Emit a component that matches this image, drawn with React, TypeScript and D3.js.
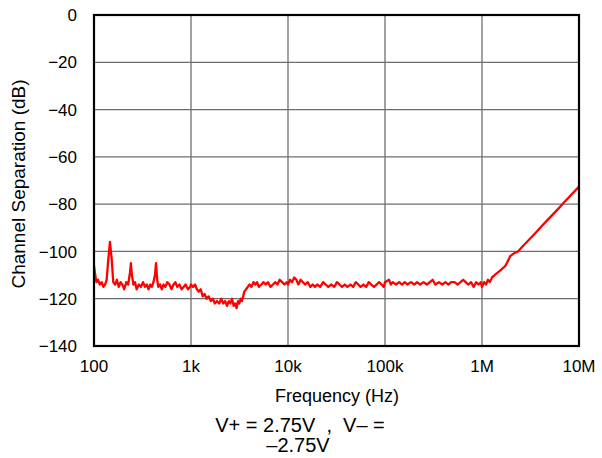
import React from "react";
import * as d3 from "d3";

const freqs: number[] = [
  100, 103, 106, 110, 115, 120, 125, 130, 135, 140, 146, 152, 158, 165, 172, 180, 188, 196, 205, 215,
  225, 235, 240, 246, 255, 265, 275, 290, 305, 320, 335, 350, 365, 380, 395, 410, 425, 436, 448, 460,
  480, 500, 520, 545, 570, 600, 630, 660, 690, 720, 760, 800, 840, 880, 930, 980, 1000,
  1050, 1100, 1150, 1200, 1260, 1320, 1380, 1450, 1520, 1600, 1680, 1760, 1850, 1950, 2050, 2150, 2250,
  2350, 2450, 2550, 2650, 2750, 2850, 2950, 3050, 3150, 3250, 3350, 3450, 3550, 3700, 3850, 4000,
  4200, 4400, 4600, 4800, 5000, 5300, 5600, 5900, 6200, 6600, 7000, 7400, 7800, 8200, 8700, 9200, 9700,
  10000, 10500, 11000, 11600, 12200, 12800, 13500, 14200, 15000, 16000, 17000, 18000, 19000, 20000,
  21500, 23000, 24500, 26000, 28000, 30000, 32000, 34000, 36000, 38500, 41000, 44000, 47000, 50000,
  53000, 56000, 60000, 64000, 68000, 72000, 77000, 82000, 87000, 92000, 97000,
  100000, 110000, 115000, 120000, 130000, 140000, 150000, 160000, 170000, 185000, 200000, 215000,
  230000, 250000, 270000, 290000, 310000, 330000, 360000, 390000, 420000, 450000, 480000, 520000,
  560000, 600000, 640000, 680000, 720000, 770000, 820000, 870000, 920000, 970000,
  1000000, 1050000, 1100000, 1150000, 1200000, 1270000, 1350000, 1450000, 1550000, 1650000, 1750000,
  1850000, 1950000, 2100000, 2350000, 2600000, 3000000, 3500000, 4000000, 5000000, 6000000, 7000000,
  8000000, 10000000,
];

const separation: number[] = [
  -106, -110, -113, -112, -114, -113, -115, -114, -112, -104, -96, -103, -113, -114, -112, -115, -113, -114, -116, -113,
  -114, -109, -105, -110, -114, -113, -116, -114, -115, -113, -115, -114, -116, -114, -115, -113, -110, -105, -112, -115,
  -114, -116, -114, -115, -113, -114, -116, -114, -113, -115, -114, -116, -115, -114, -116, -115, -114,
  -115, -114, -116, -117, -116, -119, -118, -120, -119, -121, -120, -122, -121, -122, -120, -122, -121,
  -123, -121, -122, -120, -123, -122, -124, -121, -122, -120, -121, -119, -117, -116, -115, -114,
  -115, -113, -114, -113, -115, -114, -113, -114, -113, -115, -114, -113, -114, -112, -113, -114, -113,
  -114, -112, -113, -111, -112, -114, -112, -113, -114, -113, -115, -114, -115, -114,
  -115, -113, -114, -115, -114, -115, -113, -114, -115, -114, -115, -114, -115, -113,
  -114, -115, -114, -115, -113, -114, -115, -114, -113, -114, -115,
  -113, -112, -114, -113, -114, -113, -114, -113, -114, -113, -114, -113,
  -114, -113, -114, -113, -112, -114, -113, -114, -113, -114, -113, -113,
  -114, -113, -112, -113, -114, -113, -115, -113, -114, -113,
  -115, -113, -114, -112, -113, -111, -110, -109, -108, -107, -106,
  -104, -102, -101, -100, -98, -95.4, -92.5, -89.9, -85.7, -82.3, -79.3,
  -76.8, -72.6,
];

const xTicks: number[] = [100, 1000, 10000, 100000, 1000000, 10000000];
const xTickLabels: string[] = ["100", "1k", "10k", "100k", "1M", "10M"];
const yTicks: number[] = [0, -20, -40, -60, -80, -100, -120, -140];
const yTickLabels: string[] = ["0", "\u221220", "\u221240", "\u221260", "\u221280", "\u2212100", "\u2212120", "\u2212140"];

const W = 602;
const H = 458;
const left = 94;
const right = 579;
const top = 15;
const bottom = 346;
const font = "'Liberation Sans', Arial, sans-serif";

export default function App() {
  const x = d3.scaleLog().domain([100, 10000000]).range([left, right]);
  const y = d3.scaleLinear().domain([-140, 0]).range([bottom, top]);
  const data = freqs.map((f, i) => [f, separation[i]] as [number, number]);
  const line = d3
    .line<[number, number]>()
    .x((d) => x(d[0]))
    .y((d) => y(d[1]));

  return (
    <svg
      width={W}
      height={H}
      style={{ position: "absolute", left: 0, top: 0, background: "#fff" }}
    >
      <rect x={0} y={0} width={W} height={H} fill="#fff" />
      {yTicks.map((t) => (
        <line key={"hy" + t} x1={left} x2={right} y1={y(t)} y2={y(t)} stroke="#6e6e6e" strokeWidth={1.3} />
      ))}
      {xTicks.map((t) => (
        <line key={"vx" + t} x1={x(t)} x2={x(t)} y1={top} y2={bottom} stroke="#6e6e6e" strokeWidth={1.3} />
      ))}
      <path d={line(data) || ""} fill="none" stroke="#ff0000" strokeWidth={2.3} strokeLinejoin="round" />
      <rect x={left} y={top} width={right - left} height={bottom - top} fill="none" stroke="#000" strokeWidth={2.2} />
      {yTicks.map((t, i) => (
        <text
          key={"yl" + t}
          x={77}
          y={y(t)}
          dy="0.36em"
          textAnchor="end"
          fontFamily={font}
          fontSize={17}
          fill="#000"
        >
          {yTickLabels[i]}
        </text>
      ))}
      {xTicks.map((t, i) => (
        <text
          key={"xl" + t}
          x={x(t)}
          y={372}
          textAnchor="middle"
          fontFamily={font}
          fontSize={17}
          fill="#000"
        >
          {xTickLabels[i]}
        </text>
      ))}
      <text x={337} y={402} textAnchor="middle" fontFamily={font} fontSize={18} fill="#000">
        Frequency (Hz)
      </text>
      <text
        transform="translate(25,184) rotate(-90)"
        textAnchor="middle"
        fontFamily={font}
        fontSize={19}
        fill="#000"
      >
        Channel Separation (dB)
      </text>
      <text x={300} y={432} textAnchor="middle" fontFamily={font} fontSize={20} fill="#000" style={{ whiteSpace: "pre" }}>
        {"V+ = 2.75V  ,  V\u2013 ="}
      </text>
      <text x={298} y={452} textAnchor="middle" fontFamily={font} fontSize={20} fill="#000">
        {"\u20132.75V"}
      </text>
    </svg>
  );
}
